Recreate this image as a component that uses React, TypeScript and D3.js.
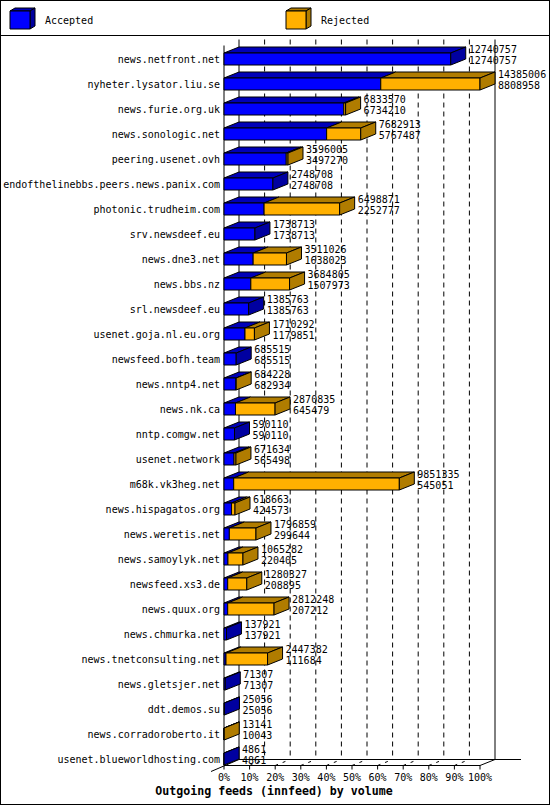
import * as d3 from "d3";
import React, { useEffect, useRef } from "react";

// one row per peer, top to bottom
const hosts = [
  "news.netfront.net",
  "nyheter.lysator.liu.se",
  "news.furie.org.uk",
  "news.sonologic.net",
  "peering.usenet.ovh",
  "endofthelinebbs.peers.news.panix.com",
  "photonic.trudheim.com",
  "srv.newsdeef.eu",
  "news.dne3.net",
  "news.bbs.nz",
  "srl.newsdeef.eu",
  "usenet.goja.nl.eu.org",
  "newsfeed.bofh.team",
  "news.nntp4.net",
  "news.nk.ca",
  "nntp.comgw.net",
  "usenet.network",
  "m68k.vk3heg.net",
  "news.hispagatos.org",
  "news.weretis.net",
  "news.samoylyk.net",
  "newsfeed.xs3.de",
  "news.quux.org",
  "news.chmurka.net",
  "news.tnetconsulting.net",
  "news.gletsjer.net",
  "ddt.demos.su",
  "news.corradoroberto.it",
  "usenet.blueworldhosting.com",
];

// total offered (upper number)
const offered = [
  12740757, 14385006, 6833570, 7682913, 3596005, 2748708, 6498871, 1738713, 3511026, 3684805,
  1385763, 1710292, 685515, 684228, 2870835, 590110, 671634, 9851335, 618663, 1796859,
  1065282, 1280327, 2812248, 137921, 2447382, 71307, 25056, 13141, 4861,
];

// accepted (lower number)
const accepted = [
  12740757, 8808958, 6734210, 5767487, 3497270, 2748708, 2252777, 1738713, 1638023, 1507973,
  1385763, 1179851, 685515, 682934, 645479, 590110, 565498, 545051, 424573, 299644,
  220405, 208895, 207212, 137921, 111684, 71307, 25056, 10043, 4861,
];

const pctTicks = [0, 10, 20, 30, 40, 50, 60, 70, 80, 90, 100];
const seriesNames = ["Accepted", "Rejected"];
const title = "Outgoing feeds (innfeed) by volume";

// front / top / side shades
const blue = { front: "#0000ff", top: "#0000b8", side: "#0000a0" };
const orange = { front: "#ffb000", top: "#b07c00", side: "#b07c00" };

const DX = 15;
const DY = -6;
const font = "'DejaVu Sans Mono', 'Liberation Mono', monospace";

function drawChart(node: SVGSVGElement) {
  const svg = d3.select(node);
  svg.selectAll("*").remove();

  // frame + legend separator
  svg.append("rect").attr("x", 0.5).attr("y", 0.5).attr("width", 549).attr("height", 804)
    .attr("fill", "white").attr("stroke", "black");
  svg.append("line").attr("x1", 0).attr("x2", 550).attr("y1", 35.5).attr("y2", 35.5).attr("stroke", "black");

  // legend cubes
  const legendX = [10, 286];
  [blue, orange].forEach((c, i) => {
    const lx = legendX[i], ly = 11, lw = 20, lh = 18, ddx = 5, ddy = -3;
    const g = svg.append("g").attr("stroke", "black").attr("stroke-linejoin", "round");
    g.append("polygon").attr("points", `${lx},${ly} ${lx + lw},${ly} ${lx + lw + ddx},${ly + ddy} ${lx + ddx},${ly + ddy}`).attr("fill", c.top);
    g.append("polygon").attr("points", `${lx + lw},${ly} ${lx + lw + ddx},${ly + ddy} ${lx + lw + ddx},${ly + lh + ddy} ${lx + lw},${ly + lh}`).attr("fill", c.side);
    g.append("rect").attr("x", lx).attr("y", ly).attr("width", lw).attr("height", lh).attr("fill", c.front);
    svg.append("text").attr("x", lx + 35).attr("y", 23.5).attr("font-family", font).attr("font-size", 10)
      .text(seriesNames[i]);
  });

  const x = d3.scaleLinear().domain([0, d3.max(offered) as number]).range([224, 480]);
  const pct = d3.scaleLinear().domain([0, 100]).range([224, 480]);
  const y = d3.scalePoint().domain(hosts).range([59, 759]);

  const backTop = 39.5;
  const backBottom = 759.5;
  const frontBottom = backBottom - DY;

  // back wall grid
  pctTicks.slice(1, -1).forEach(v => {
    svg.append("line").attr("x1", pct(v) + DX).attr("x2", pct(v) + DX).attr("y1", backTop).attr("y2", backBottom)
      .attr("stroke", "black").attr("stroke-dasharray", "5,4");
    svg.append("line").attr("x1", pct(v)).attr("y1", frontBottom).attr("x2", pct(v) + DX).attr("y2", backBottom)
      .attr("stroke", "black").attr("stroke-dasharray", "3,5");
  });
  // back wall edges + floor
  const edges: [number, number, number, number][] = [
    [pct(0) + DX, backTop, pct(0) + DX, backBottom],
    [pct(100) + DX, backTop, pct(100) + DX, backBottom],
    [pct(0), backTop - DY, pct(0), frontBottom],
    [pct(0) + DX, backBottom, 521, backBottom],
    [pct(0), frontBottom, pct(100), frontBottom],
    [pct(100), frontBottom, pct(100) + DX, backBottom],
    [pct(0) - 13, frontBottom + 6, pct(0) + DX, backBottom],
  ];
  edges.forEach(([x1, y1, x2, y2]) => {
    svg.append("line").attr("x1", x1).attr("y1", y1).attr("x2", x2).attr("y2", y2).attr("stroke", "black");
  });

  // x ticks + labels
  pctTicks.forEach(v => {
    svg.append("line").attr("x1", pct(v)).attr("x2", pct(v)).attr("y1", frontBottom).attr("y2", frontBottom + 4)
      .attr("stroke", "black");
    svg.append("text").attr("x", pct(v)).attr("y", 781).attr("text-anchor", "middle")
      .attr("font-family", font).attr("font-size", 10).text(`${v}%`);
  });

  // bars
  hosts.forEach((h, i) => {
    const yc = y(h) as number;
    const top = yc - 6, bottom = yc + 6;
    const x0 = x(0), xa = x(accepted[i]), xt = x(offered[i]);
    const g = svg.append("g").attr("stroke", "black").attr("stroke-linejoin", "round");
    const segs = [
      { from: x0, to: xa, c: blue },
      { from: xa, to: xt, c: orange },
    ].filter(s => s.to - s.from > 0.01);
    segs.forEach(s => {
      g.append("polygon")
        .attr("points", `${s.from},${top} ${s.to},${top} ${s.to + DX},${top + DY} ${s.from + DX},${top + DY}`)
        .attr("fill", s.c.top);
      g.append("rect").attr("x", s.from).attr("y", top).attr("width", s.to - s.from).attr("height", bottom - top)
        .attr("fill", s.c.front);
    });
    const last = offered[i] > accepted[i] ? orange : blue;
    g.append("polygon")
      .attr("points", `${xt},${top} ${xt + DX},${top + DY} ${xt + DX},${bottom + DY} ${xt},${bottom}`)
      .attr("fill", last.side);

    // value labels
    const tx = xt + DX + 3;
    svg.append("text").attr("x", tx).attr("y", yc - 6.3).attr("font-family", font).attr("font-size", 10)
      .text(String(offered[i]));
    svg.append("text").attr("x", tx).attr("y", yc + 5).attr("font-family", font).attr("font-size", 10)
      .text(String(accepted[i]));

    // host label
    svg.append("text").attr("x", 220).attr("y", yc + 4).attr("text-anchor", "end")
      .attr("font-family", font).attr("font-size", 10).text(h);
  });

  svg.append("text").attr("x", 274).attr("y", 795).attr("text-anchor", "middle")
    .attr("font-family", font).attr("font-size", 11.6).attr("font-weight", "bold").text(title);
}

export default function App() {
  const ref = useRef<SVGSVGElement>(null);

  useEffect(() => {
    document.body.style.margin = "0";
    if (ref.current) drawChart(ref.current);
  }, []);

  return <svg ref={ref} width={550} height={805} style={{ display: "block" }} />;
}
